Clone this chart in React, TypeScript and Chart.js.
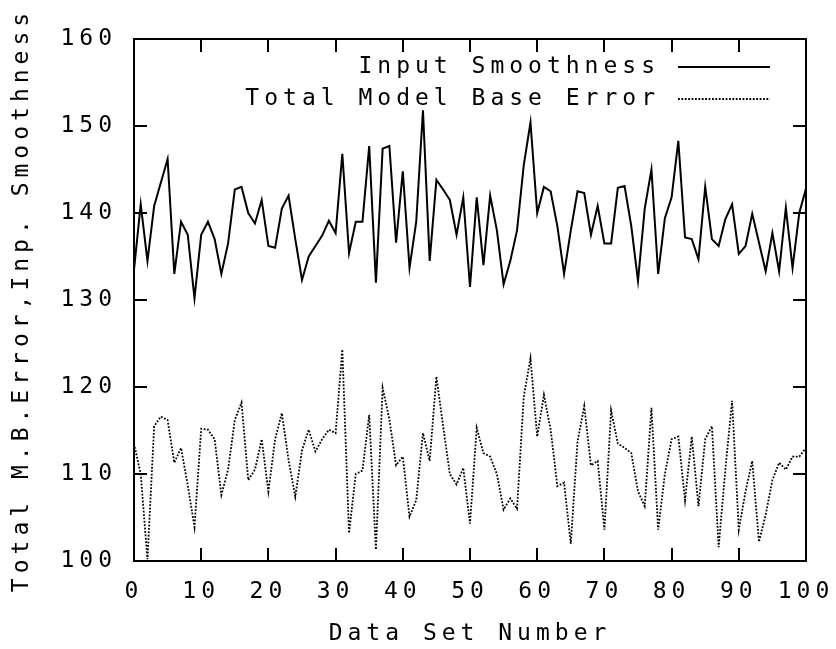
import React, { useEffect, useRef } from "react";
import { Chart, registerables } from "chart.js";

Chart.register(...registerables);

const FONT = '"DejaVu Sans Mono", monospace';
const FSIZE = 23;
const LSP = "5px";

const seriesLabels = ["Input Smoothness", "Total Model Base Error"];
const xTitle = "Data Set Number";
const yTitle = "Total M.B.Error,Inp. Smoothness";

const inputSmoothness = [
  133.5, 141, 134.5, 140.8, 143.5, 146.2, 133, 139, 137.5, 130.2,
  137.5, 139, 137, 133, 136.5, 142.7, 143, 140, 138.8, 141.5,
  136.2, 136, 140.5, 142, 137, 132.3, 135, 136.2, 137.4, 139.1,
  137.7, 146.8, 135.4, 139, 139, 147.7, 132, 147.4, 147.7, 136.6,
  144.8, 133.7, 139, 151.8, 134.5, 143.8, 142.7, 141.5, 137.5, 141.8,
  131.5, 141.8, 134, 142, 138, 131.8, 134.5, 138, 145.5, 150.4,
  140, 143, 142.5, 138.5, 133, 138, 142.5, 142.3, 137.5, 140.8,
  136.5, 136.5, 142.9, 143.1, 138.5, 132.2, 140.5, 145, 133, 139.4,
  141.8, 148.3, 137.2, 137, 134.7, 143, 137, 136.2, 139.3, 141,
  135.3, 136.2, 139.9, 136.6, 133.3, 137.7, 133.3, 140.6, 133.7, 140,
  142.8,
];

const modelBaseError = [
  113.5, 110, 100.2, 115.5, 116.6, 116.2, 111.3, 113, 108.7, 103.9,
  115.2, 115.1, 114, 107.6, 110.5, 116.2, 118.2, 109.3, 110.5, 114,
  108, 114, 117, 111.6, 107.4, 112.7, 115.1, 112.6, 114, 115.1,
  114.7, 124.3, 103.2, 110, 110.4, 116.8, 101.3, 119.9, 116.3, 111,
  112, 105.1, 107, 114.7, 111.5, 121.2, 115.5, 110, 108.8, 110.7,
  104.3, 115.3, 112.4, 112, 110, 105.9, 107.2, 106, 118.9, 123.3,
  114.3, 119.1, 115.1, 108.6, 109, 102, 113.7, 117.8, 111, 111.5,
  103.6, 117.3, 113.5, 113, 112.4, 108, 106.3, 117.6, 103.6, 110,
  114, 114.3, 107, 114.3, 106.3, 114, 115.5, 101.6, 110.5, 118.4,
  103.6, 108, 111.5, 102.2, 105.3, 109.3, 111.3, 110.5, 112, 112,
  113,
];

const xMin = 0;
const xMax = 100;
const xStep = 10;
const yMin = 100;
const yMax = 160;
const yStep = 10;

const toPoints = (vals: number[]) => vals.map((v, i) => ({ x: i, y: v }));

const gnuplotPlugin = {
  id: "gnuplotFrame",
  beforeLayout(chart: any) {
    chart.ctx.letterSpacing = LSP;
  },
  beforeDraw(chart: any) {
    chart.ctx.letterSpacing = LSP;
  },
  afterDraw(chart: any) {
    const { ctx, chartArea: a, scales } = chart;
    const xs = scales.x;
    const ys = scales.y;
    ctx.save();
    ctx.setLineDash([]);
    ctx.strokeStyle = "#000";
    ctx.lineWidth = 2;
    ctx.strokeRect(a.left, a.top, a.right - a.left, a.bottom - a.top);
    const L = 13;
    ctx.beginPath();
    xs.ticks.forEach((t: any) => {
      if (t.value === xMin || t.value === xMax) return;
      const px = Math.round(xs.getPixelForValue(t.value));
      ctx.moveTo(px, a.bottom);
      ctx.lineTo(px, a.bottom - L);
      ctx.moveTo(px, a.top);
      ctx.lineTo(px, a.top + L);
    });
    ys.ticks.forEach((t: any) => {
      if (t.value === yMin || t.value === yMax) return;
      const py = Math.round(ys.getPixelForValue(t.value));
      ctx.moveTo(a.left, py);
      ctx.lineTo(a.left + L, py);
      ctx.moveTo(a.right, py);
      ctx.lineTo(a.right - L, py);
    });
    ctx.stroke();

    // legend
    ctx.font = `${FSIZE}px ${FONT}`;
    ctx.letterSpacing = LSP;
    ctx.textAlign = "right";
    ctx.textBaseline = "middle";
    ctx.fillStyle = "#000";
    chart.data.datasets.forEach((ds: any, i: number) => {
      const yy = a.top + 28 + i * 32;
      ctx.fillText(ds.label, 660, yy);
      ctx.strokeStyle = ds.borderColor;
      ctx.lineWidth = ds.borderWidth;
      ctx.setLineDash(ds.borderDash || []);
      ctx.beginPath();
      ctx.moveTo(678, yy);
      ctx.lineTo(770, yy);
      ctx.stroke();
    });
    ctx.restore();
  },
};

export default function App() {
  const ref = useRef<HTMLCanvasElement>(null);

  useEffect(() => {
    if (!ref.current) return;
    const chart = new Chart(ref.current, {
      type: "line",
      data: {
        datasets: [
          {
            label: seriesLabels[0],
            data: toPoints(inputSmoothness),
            borderColor: "#000",
            borderWidth: 2,
            pointRadius: 0,
            tension: 0,
            fill: false,
          },
          {
            label: seriesLabels[1],
            data: toPoints(modelBaseError),
            borderColor: "#000",
            borderWidth: 1.8,
            borderDash: [1.8, 1.6],
            pointRadius: 0,
            tension: 0,
            fill: false,
          },
        ],
      },
      options: {
        animation: false,
        responsive: false,
        devicePixelRatio: 1,
        layout: { padding: { left: 0, top: 39, right: 30, bottom: 0 } },
        plugins: {
          legend: { display: false },
          tooltip: { enabled: false },
        },
        scales: {
          x: {
            type: "linear",
            min: xMin,
            max: xMax,
            grid: { display: false, drawTicks: false },
            border: { display: false },
            ticks: {
              stepSize: xStep,
              autoSkip: false,
              maxRotation: 0,
              padding: 17,
              color: "#000",
              font: { family: FONT, size: FSIZE },
            },
            title: {
              display: true,
              text: xTitle,
              color: "#000",
              font: { family: FONT, size: FSIZE },
              padding: { top: 0, bottom: 1 },
            },
            afterFit(scale: any) {
              scale.height = 88;
              scale.paddingLeft = 0;
              scale.paddingRight = 0;
            },
          },
          y: {
            min: yMin,
            max: yMax,
            grid: { display: false, drawTicks: false },
            border: { display: false },
            ticks: {
              stepSize: yStep,
              padding: 17,
              color: "#000",
              font: { family: FONT, size: FSIZE },
            },
            title: {
              display: true,
              text: yTitle,
              color: "#000",
              font: { family: FONT, size: FSIZE },
              padding: { top: 8, bottom: 0 },
            },
            afterFit(scale: any) {
              scale.width = 134;
              scale.paddingTop = 0;
              scale.paddingBottom = 0;
            },
          },
        },
      },
      plugins: [gnuplotPlugin],
    } as any);
    return () => chart.destroy();
  }, []);

  return (
    <div style={{ position: "absolute", left: 0, top: 0, width: 836, height: 649, background: "#fff" }}>
      <canvas ref={ref} width={836} height={649} style={{ display: "block" }} />
    </div>
  );
}
